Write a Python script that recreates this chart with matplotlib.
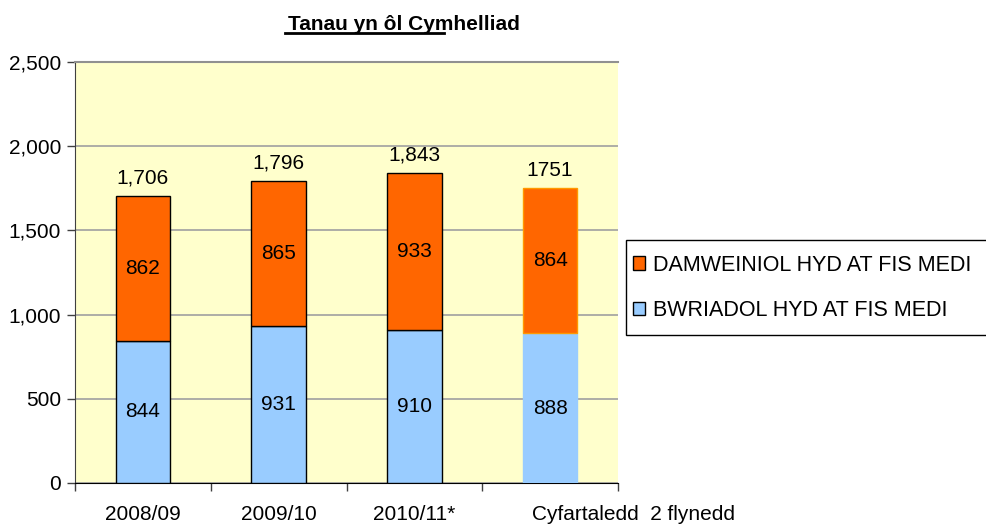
import matplotlib
matplotlib.use("Agg")
import matplotlib.pyplot as plt
from matplotlib.lines import Line2D
from matplotlib.patches import Patch, Rectangle
from matplotlib.transforms import ScaledTranslation
import numpy as np

plt.rcParams['font.family'] = ['Liberation Sans', 'DejaVu Sans']

# data
categories = ["2008/09", "2009/10", "2010/11*", "Cyfartaledd  2 flynedd"]
bwriadol = [844, 931, 910, 888]
damweiniol = [862, 865, 933, 864]
total_labels = ["1,706", "1,796", "1,843", "1751"]
series_names = ["DAMWEINIOL HYD AT FIS MEDI", "BWRIADOL HYD AT FIS MEDI"]

ORANGE = "#FF6600"
BLUE = "#99CCFF"
BG = "#FFFFCC"
FS = 15

fig = plt.figure(figsize=(9.87, 5.24), dpi=100)
ax = fig.add_axes([75/987, 1-483/524, (618-75)/987, (483-62)/524])
ax.set_facecolor(BG)

x = np.arange(len(categories))
w = 0.4
for i in range(len(categories)):
    if i < 3:
        ec_b, ec_o = "black", "black"
    else:
        ec_b, ec_o = BLUE, "#FF9900"
    ax.bar(x[i], bwriadol[i], w, color=BLUE, edgecolor=ec_b, linewidth=1.0, zorder=3)
    ax.bar(x[i], damweiniol[i], w, bottom=bwriadol[i], color=ORANGE,
           edgecolor=ec_o, linewidth=1.0, zorder=3)
    ax.text(x[i], bwriadol[i]/2, str(bwriadol[i]), ha="center", va="center", fontsize=FS, zorder=4)
    ax.text(x[i], bwriadol[i] + damweiniol[i]/2, str(damweiniol[i]), ha="center", va="center",
            fontsize=FS, zorder=4)
    ax.annotate(total_labels[i], (x[i], bwriadol[i] + damweiniol[i]), xytext=(0, 6),
                textcoords="offset points", ha="center", va="bottom", fontsize=FS)

ax.set_xlim(-0.5, 3.5)
ax.set_ylim(0, 2500)
ax.set_yticks(np.arange(0, 2501, 500))
ax.set_yticklabels([f"{v:,}" for v in range(0, 2501, 500)], fontsize=FS)
ax.yaxis.grid(True, color="#A0A0A0", linewidth=1.2, zorder=0)
ax.set_axisbelow(True)

# category boundaries get the tick marks, names sit in between
ax.set_xticks(np.arange(-0.5, 4, 1))
ax.set_xticklabels([])
ax.set_xticks(x, minor=True)
ax.set_xticklabels(categories, minor=True, fontsize=FS)
ax.tick_params(axis="x", which="minor", length=0, pad=16)
ax.tick_params(axis="x", which="major", length=6, width=1, color="#404040")
ax.tick_params(axis="y", length=6, width=1, color="#404040", pad=4)

lab = ax.get_xticklabels(minor=True)[-1]
lab.set_transform(lab.get_transform() + ScaledTranslation(0.83, 0, fig.dpi_scale_trans))

ax.spines["right"].set_visible(False)
ax.spines["top"].set_color("#909090")
ax.spines["top"].set_linewidth(1.5)
ax.spines["left"].set_color("#404040")
ax.spines["bottom"].set_color("black")

# title with a partial underline
fig.text(404/987, 1-25/524, "Tanau yn ôl Cymhelliad", ha="center", va="center",
         fontsize=15, fontweight="bold")
fig.add_artist(Line2D([285/987, 444/987], [1-33/524, 1-33/524], color="black", linewidth=2))

# legend box runs off the right edge
fig.add_artist(Rectangle((626/987, 1-335/524), 400/987, 95/524, transform=fig.transFigure,
                         facecolor="white", edgecolor="black", linewidth=1.0))
handles = [Patch(facecolor=ORANGE, edgecolor="black"), Patch(facecolor=BLUE, edgecolor="black")]
leg = fig.legend(handles, series_names, loc="center left", bbox_to_anchor=(633/987, 1-288/524),
                 fontsize=15.5, frameon=False,
                 handlelength=0.56, handleheight=0.56, handletextpad=0.35, labelspacing=1.15,
                 borderpad=0, borderaxespad=0)

fig.savefig("out.png", dpi=100)
